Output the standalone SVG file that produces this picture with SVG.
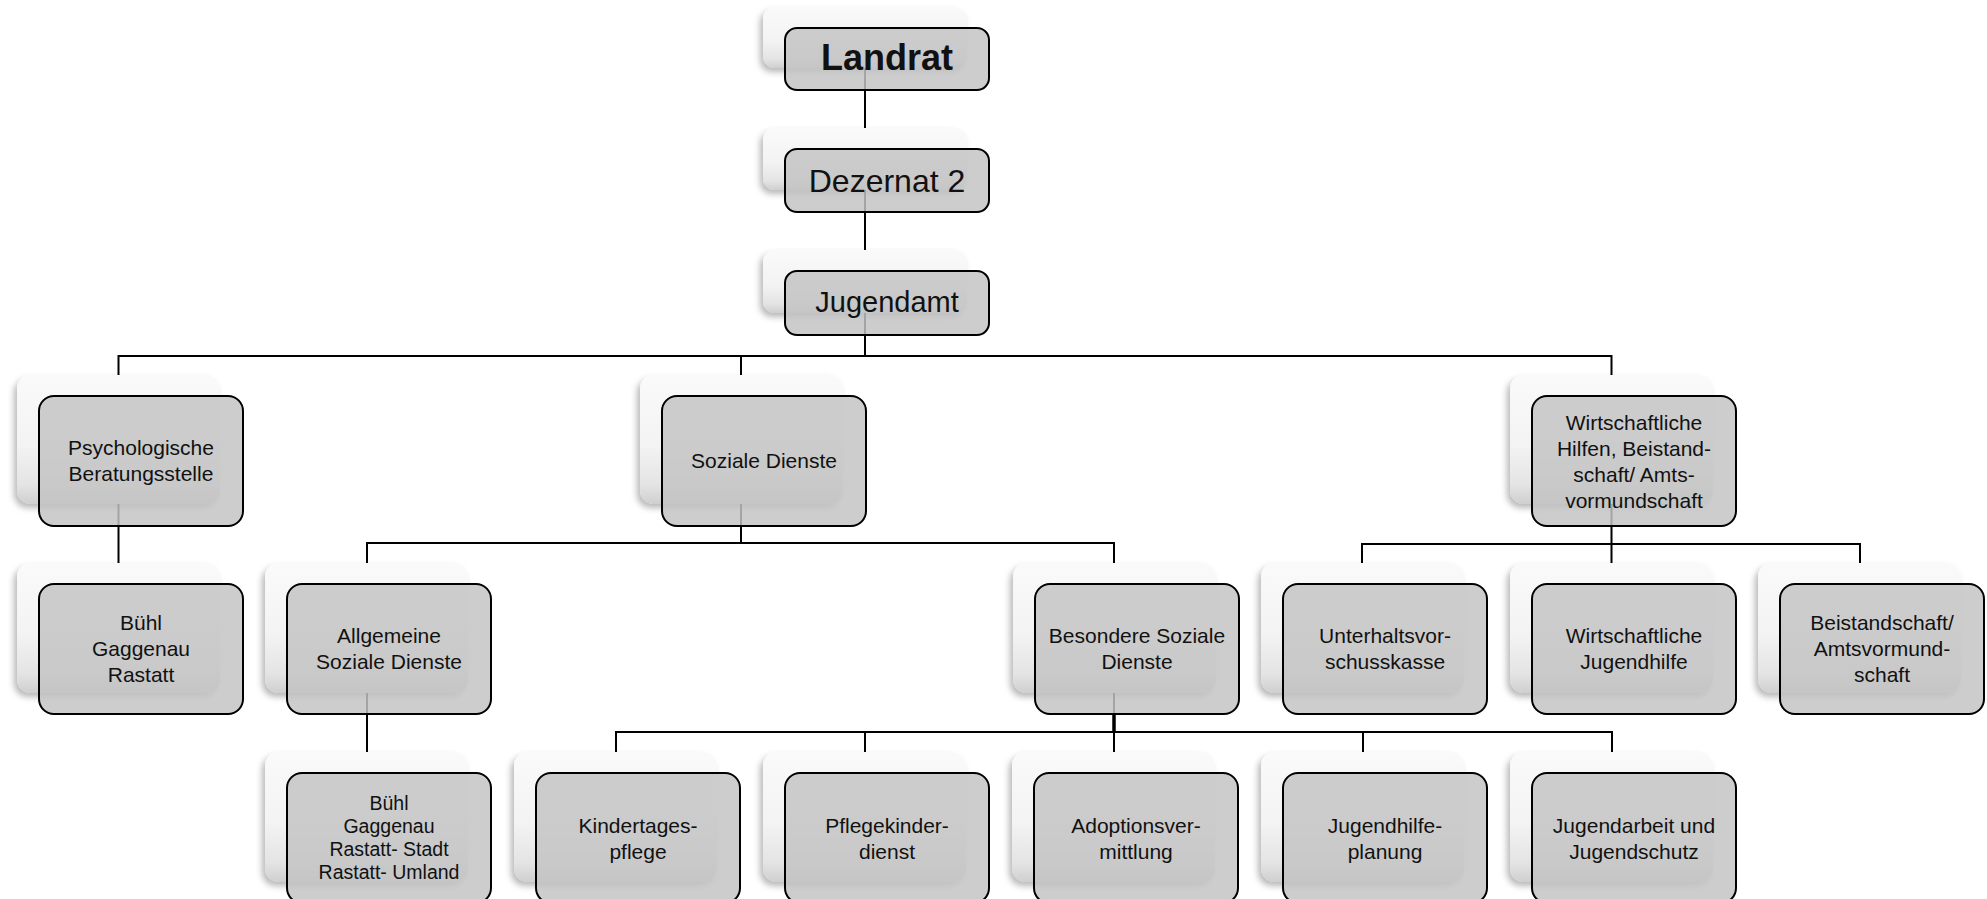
<svg xmlns="http://www.w3.org/2000/svg" width="1987" height="899" viewBox="0 0 1987 899">
<defs>
<linearGradient id="bgGrad" x1="0" y1="0" x2="0" y2="1">
<stop offset="0" stop-color="#fafafa"/>
<stop offset="0.55" stop-color="#f3f3f3"/>
<stop offset="0.85" stop-color="#e4e4e4"/>
<stop offset="1" stop-color="#cfcfcf"/>
</linearGradient>
<filter id="soft" x="-10%" y="-10%" width="120%" height="130%">
<feDropShadow dx="-3" dy="4" stdDeviation="3" flood-color="#000" flood-opacity="0.28"/>
</filter>
</defs>
<style>
.back{fill:url(#bgGrad);filter:url(#soft);}
.front{fill:#c4c4c4;fill-opacity:0.84;stroke:#000;stroke-width:2;}
.t{font-family:"Liberation Sans",Arial,sans-serif;font-size:21px;fill:#111;text-anchor:middle;}
.s{font-size:19.5px;}
.c{stroke:#000;stroke-width:2;fill:none;}
</style>
<rect width="1987" height="899" fill="#fff"/>
<g id="connectors">
<path class="c" d="M865 68V128M865 190V250M865 313V356M118.5 356H1611.5M118.5 355V375M741 355V375M1611.5 355V375"/>
<path class="c" d="M118.5 504V563"/>
<path class="c" d="M741 504V543M367 543H1114M367 542V563M1114 542V563"/>
<path class="c" d="M1611.5 504V544M1362 544H1860M1362 543V563M1611.5 543V563M1860 543V563"/>
<path class="c" d="M367 693V752"/>
<path class="c" d="M1114 693V732M616 732H1612M616 731V752M865 731V752M1114 731V752M1363 731V752M1612 731V752"/>
<path stroke="#000" stroke-width="3.5" d="M1114 713V732"/>
</g>
<g id="landrat">
<rect class="back" x="763" y="7" width="204" height="61" rx="12"/>
<rect class="front" x="785" y="28" width="204" height="62" rx="12"/>
<text class="t" x="887" y="70" style="font-size:36px;font-weight:bold">Landrat</text>
</g>
<g id="dezernat2">
<rect class="back" x="763" y="128" width="204" height="62" rx="12"/>
<rect class="front" x="785" y="149" width="204" height="63" rx="12"/>
<text class="t" x="887" y="192" style="font-size:32px">Dezernat 2</text>
</g>
<g id="jugendamt">
<rect class="back" x="763" y="250" width="204" height="63" rx="12"/>
<rect class="front" x="785" y="271" width="204" height="64" rx="12"/>
<text class="t" x="887" y="312" style="font-size:29px">Jugendamt</text>
</g>
<g id="psychologische-beratungsstelle">
<rect class="back" x="17" y="375" width="203" height="129" rx="14"/>
<rect class="front" x="39" y="396" width="204" height="130" rx="15"/>
<text class="t" x="141" y="455">Psychologische</text>
<text class="t" x="141" y="481">Beratungsstelle</text>
</g>
<g id="soziale-dienste">
<rect class="back" x="640" y="375" width="203" height="129" rx="14"/>
<rect class="front" x="662" y="396" width="204" height="130" rx="15"/>
<text class="t" x="764" y="468">Soziale Dienste</text>
</g>
<g id="wirtschaftliche-hilfen">
<rect class="back" x="1510" y="375" width="203" height="129" rx="14"/>
<rect class="front" x="1532" y="396" width="204" height="130" rx="15"/>
<text class="t" x="1634" y="430">Wirtschaftliche</text>
<text class="t" x="1634" y="456">Hilfen, Beistand-</text>
<text class="t" x="1634" y="482">schaft/ Amts-</text>
<text class="t" x="1634" y="508">vormundschaft</text>
</g>
<g id="psych-standorte">
<rect class="back" x="17" y="563" width="203" height="130" rx="14"/>
<rect class="front" x="39" y="584" width="204" height="130" rx="15"/>
<text class="t" x="141" y="630">Bühl</text>
<text class="t" x="141" y="656">Gaggenau</text>
<text class="t" x="141" y="682">Rastatt</text>
</g>
<g id="allgemeine-soziale-dienste">
<rect class="back" x="265" y="563" width="203" height="130" rx="14"/>
<rect class="front" x="287" y="584" width="204" height="130" rx="15"/>
<text class="t" x="389" y="643">Allgemeine</text>
<text class="t" x="389" y="669">Soziale Dienste</text>
</g>
<g id="besondere-soziale-dienste">
<rect class="back" x="1013" y="563" width="203" height="130" rx="14"/>
<rect class="front" x="1035" y="584" width="204" height="130" rx="15"/>
<text class="t" x="1137" y="643">Besondere Soziale</text>
<text class="t" x="1137" y="669">Dienste</text>
</g>
<g id="unterhaltsvorschusskasse">
<rect class="back" x="1261" y="563" width="203" height="130" rx="14"/>
<rect class="front" x="1283" y="584" width="204" height="130" rx="15"/>
<text class="t" x="1385" y="643">Unterhaltsvor-</text>
<text class="t" x="1385" y="669">schusskasse</text>
</g>
<g id="wirtschaftliche-jugendhilfe">
<rect class="back" x="1510" y="563" width="203" height="130" rx="14"/>
<rect class="front" x="1532" y="584" width="204" height="130" rx="15"/>
<text class="t" x="1634" y="643">Wirtschaftliche</text>
<text class="t" x="1634" y="669">Jugendhilfe</text>
</g>
<g id="beistandschaft">
<rect class="back" x="1758" y="563" width="203" height="130" rx="14"/>
<rect class="front" x="1780" y="584" width="204" height="130" rx="15"/>
<text class="t" x="1882" y="630">Beistandschaft/</text>
<text class="t" x="1882" y="656">Amtsvormund-</text>
<text class="t" x="1882" y="682">schaft</text>
</g>
<g id="asd-standorte">
<rect class="back" x="265" y="752" width="203" height="130" rx="14"/>
<rect class="front" x="287" y="773" width="204" height="130" rx="15"/>
<text class="t s" x="389" y="810">Bühl</text>
<text class="t s" x="389" y="833">Gaggenau</text>
<text class="t s" x="389" y="856">Rastatt- Stadt</text>
<text class="t s" x="389" y="879">Rastatt- Umland</text>
</g>
<g id="kindertagespflege">
<rect class="back" x="514" y="752" width="203" height="130" rx="14"/>
<rect class="front" x="536" y="773" width="204" height="130" rx="15"/>
<text class="t" x="638" y="833">Kindertages-</text>
<text class="t" x="638" y="859">pflege</text>
</g>
<g id="pflegekinderdienst">
<rect class="back" x="763" y="752" width="203" height="130" rx="14"/>
<rect class="front" x="785" y="773" width="204" height="130" rx="15"/>
<text class="t" x="887" y="833">Pflegekinder-</text>
<text class="t" x="887" y="859">dienst</text>
</g>
<g id="adoptionsvermittlung">
<rect class="back" x="1012" y="752" width="203" height="130" rx="14"/>
<rect class="front" x="1034" y="773" width="204" height="130" rx="15"/>
<text class="t" x="1136" y="833">Adoptionsver-</text>
<text class="t" x="1136" y="859">mittlung</text>
</g>
<g id="jugendhilfeplanung">
<rect class="back" x="1261" y="752" width="203" height="130" rx="14"/>
<rect class="front" x="1283" y="773" width="204" height="130" rx="15"/>
<text class="t" x="1385" y="833">Jugendhilfe-</text>
<text class="t" x="1385" y="859">planung</text>
</g>
<g id="jugendarbeit-jugendschutz">
<rect class="back" x="1510" y="752" width="203" height="130" rx="14"/>
<rect class="front" x="1532" y="773" width="204" height="130" rx="15"/>
<text class="t" x="1634" y="833">Jugendarbeit und</text>
<text class="t" x="1634" y="859">Jugendschutz</text>
</g>
</svg>
